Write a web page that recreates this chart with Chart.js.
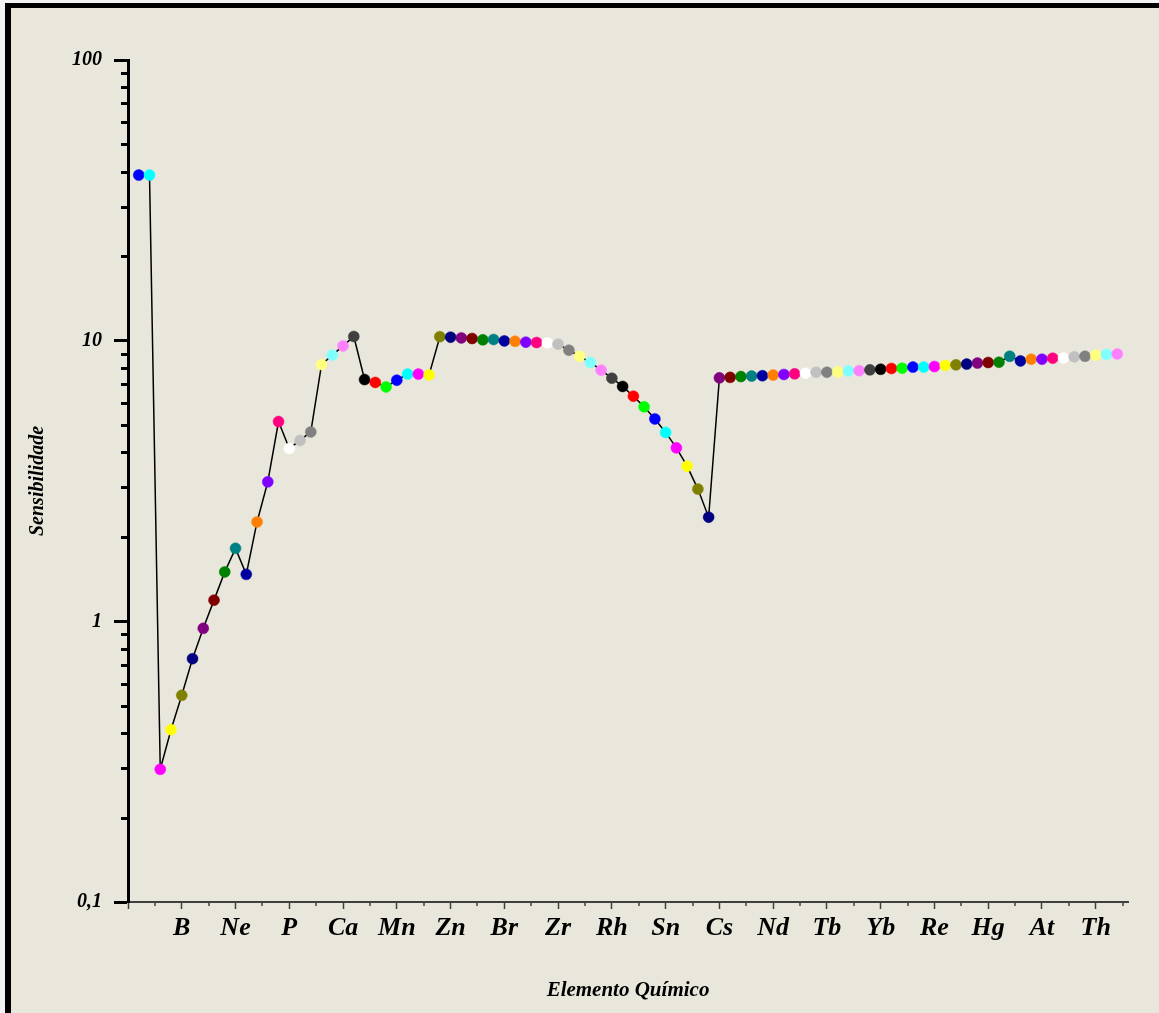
<!DOCTYPE html>
<html lang="pt">
<head>
<meta charset="utf-8">
<title>Sensibilidade por elemento químico</title>
<script src="https://cdn.jsdelivr.net/npm/chart.js@4.4.1/dist/chart.umd.min.js"></script>
<style>
  html, body { margin: 0; padding: 0; background: #f3f3f3; }
  #wrap { position: relative; width: 1159px; height: 1013px; overflow: hidden; background: #f3f3f3; }
  #frame {
    position: absolute; left: 5px; top: 3px; right: 0; bottom: 0;
    border-left: 6px solid #000; border-top: 5px solid #000;
    background: #E9E7DB;
  }
  #grafico { position: absolute; left: 0; top: 0; }
</style>
</head>
<body>
<div id="wrap">
  <div id="frame"></div>
  <canvas id="grafico" width="1159" height="1013"></canvas>
</div>
<script>
// Número atómico de cada elemento medido (H ... U)
const numeroAtomico = [
  1, 2, 3, 4, 5, 6, 7, 8, 9, 10,
  11, 12, 13, 14, 15, 16, 17, 18, 19, 20,
  21, 22, 23, 24, 25, 26, 27, 28, 29, 30,
  31, 32, 33, 34, 35, 36, 37, 38, 39, 40,
  41, 42, 43, 44, 45, 46, 47, 48, 49, 50,
  51, 52, 53, 54, 55, 56, 57, 58, 59, 60,
  61, 62, 63, 64, 65, 66, 67, 68, 69, 70,
  71, 72, 73, 74, 75, 76, 77, 78, 79, 80,
  81, 82, 83, 84, 85, 86, 87, 88, 89, 90,
  91, 92
];

// Sensibilidade relativa de cada elemento
const sensibilidade = [
  38.9, 38.9, 0.297, 0.411, 0.545, 0.736, 0.944, 1.19, 1.50, 1.82,
  1.47, 2.26, 3.14, 5.15, 4.13, 4.41, 4.73, 8.22, 8.88, 9.58,
  10.35, 7.27, 7.10, 6.84, 7.23, 7.60, 7.60, 7.55, 10.33, 10.29,
  10.23, 10.18, 10.07, 10.10, 9.98, 9.95, 9.88, 9.85, 9.83, 9.72,
  9.25, 8.80, 8.36, 7.85, 7.35, 6.87, 6.34, 5.81, 5.26, 4.71,
  4.15, 3.57, 2.96, 2.35, 7.37, 7.40, 7.45, 7.48, 7.50, 7.54,
  7.58, 7.62, 7.66, 7.72, 7.72, 7.74, 7.80, 7.82, 7.87, 7.91,
  7.96, 7.98, 8.05, 8.05, 8.09, 8.16, 8.20, 8.25, 8.32, 8.36,
  8.38, 8.80, 8.47, 8.59, 8.59, 8.66, 8.68, 8.76, 8.80, 8.88,
  8.93, 8.97
];

// Rótulos do eixo X (um símbolo a cada cinco elementos)
const xTickValues = [5, 10, 15, 20, 25, 30, 35, 40, 45, 50, 55, 60, 65, 70, 75, 80, 85, 90];
const xTickLabels = ['B', 'Ne', 'P', 'Ca', 'Mn', 'Zn', 'Br', 'Zr', 'Rh', 'Sn', 'Cs', 'Nd', 'Tb', 'Yb', 'Re', 'Hg', 'At', 'Th'];

// Rótulos do eixo Y (escala logarítmica)
const yTickValues = [0.1, 1, 10, 100];
const yTickLabels = ['0,1', '1', '10', '100'];

// Paleta cíclica usada nos marcadores
const paleta = [
  '#000000', '#FF0000', '#00FF00', '#0000FF', '#00FFFF', '#FF00FF', '#FFFF00', '#808000',
  '#000080', '#800080', '#800000', '#008000', '#008080', '#0000A0', '#FF8000', '#8000FF',
  '#FF0080', '#FFFFFF', '#C0C0C0', '#808080', '#FFFF80', '#80FFFF', '#FF80FF', '#404040'
];
const coresPontos = numeroAtomico.map(z => paleta[(z + 2) % paleta.length]);

const pontos = numeroAtomico.map((z, i) => ({ x: z, y: sensibilidade[i] }));

const fonteEscrita = "'Liberation Serif', 'DejaVu Serif', serif";

function isMajorX(v) { return xTickValues.some(t => Math.abs(t - v) < 1e-6) || Math.abs(v) < 1e-6; }
function isMajorY(v) { return yTickValues.some(t => Math.abs(t - v) / t < 1e-6); }

// Traços menores mais curtos que os principais
const tracosMenores = {
  id: 'tracosMenores',
  afterDraw(chart) {
    const ctx = chart.ctx;
    const ys = chart.scales.y;
    const xs = chart.scales.x;
    ctx.save();
    ctx.strokeStyle = '#000';
    ctx.lineWidth = 3;
    ctx.lineCap = 'butt';
    ys.ticks.forEach(t => {
      if (isMajorY(t.value)) return;
      const py = Math.round(ys.getPixelForValue(t.value)) + 0.5;
      ctx.beginPath();
      ctx.moveTo(ys.right - 7, py);
      ctx.lineTo(ys.right, py);
      ctx.stroke();
    });
    ctx.strokeStyle = '#404040';
    ctx.lineWidth = 1.5;
    xs.ticks.forEach(t => {
      if (isMajorX(t.value)) return;
      const px = Math.round(xs.getPixelForValue(t.value));
      ctx.beginPath();
      ctx.moveTo(px, xs.top);
      ctx.lineTo(px, xs.top + 4);
      ctx.stroke();
    });
    ctx.restore();
  }
};

new Chart(document.getElementById('grafico'), {
  type: 'line',
  data: {
    datasets: [{
      data: pontos,
      borderColor: '#000',
      borderWidth: 1.5,
      tension: 0,
      pointRadius: 5.5,
      pointBackgroundColor: coresPontos,
      pointBorderColor: coresPontos,
      pointBorderWidth: 0.5
    }]
  },
  options: {
    responsive: false,
    animation: false,
    events: [],
    layout: { padding: { top: 60, right: 31, left: 0, bottom: 0 } },
    plugins: { legend: { display: false }, tooltip: { enabled: false } },
    scales: {
      x: {
        type: 'linear',
        min: 0,
        max: 93,
        afterFit(scale) { scale.height = 111; },
        afterBuildTicks(scale) {
          const t = [];
          for (let v = 0; v <= 92.5; v += 2.5) t.push({ value: v });
          scale.ticks = t;
        },
        border: { display: true, color: '#404040', width: 2 },
        grid: {
          drawOnChartArea: false,
          drawTicks: true,
          tickLength: 7,
          tickWidth: 1.5,
          tickColor: (c) => (c.tick && isMajorX(c.tick.value)) ? '#404040' : 'rgba(0,0,0,0)'
        },
        ticks: {
          autoSkip: false,
          maxRotation: 0,
          minRotation: 0,
          padding: 4,
          color: '#000',
          font: { family: fonteEscrita, size: 26, style: 'italic', weight: 'bold' },
          callback(value) {
            const i = xTickValues.findIndex(t => Math.abs(t - value) < 1e-6);
            return i >= 0 ? xTickLabels[i] : '';
          }
        },
        title: {
          display: true,
          text: 'Elemento Químico',
          color: '#000',
          font: { family: fonteEscrita, size: 21, style: 'italic', weight: 'bold' },
          padding: { top: 0, bottom: 10 }
        }
      },
      y: {
        type: 'logarithmic',
        min: 0.1,
        max: 100,
        afterFit(scale) { scale.width = 128; },
        afterBuildTicks(scale) {
          const t = [];
          [0.1, 1, 10].forEach(d => {
            for (let m = 1; m <= 9; m++) t.push({ value: +(m * d).toPrecision(6) });
          });
          t.push({ value: 100 });
          scale.ticks = t;
        },
        border: { display: true, color: '#000', width: 3 },
        grid: {
          drawOnChartArea: false,
          drawTicks: true,
          tickLength: 14,
          tickWidth: 3,
          tickColor: (c) => (c.tick && isMajorY(c.tick.value)) ? '#000' : 'rgba(0,0,0,0)'
        },
        ticks: {
          autoSkip: false,
          padding: 12,
          color: '#000',
          font: { family: fonteEscrita, size: 20, style: 'italic', weight: 'bold' },
          callback(value) {
            const i = yTickValues.findIndex(t => Math.abs(t - value) / t < 1e-6);
            return i >= 0 ? yTickLabels[i] : '';
          }
        },
        title: {
          display: true,
          text: 'Sensibilidade',
          color: '#000',
          font: { family: fonteEscrita, size: 20, style: 'italic', weight: 'bold' },
          padding: { top: 26, bottom: 0 }
        }
      }
    }
  },
  plugins: [tracosMenores]
});
</script>
</body>
</html>
